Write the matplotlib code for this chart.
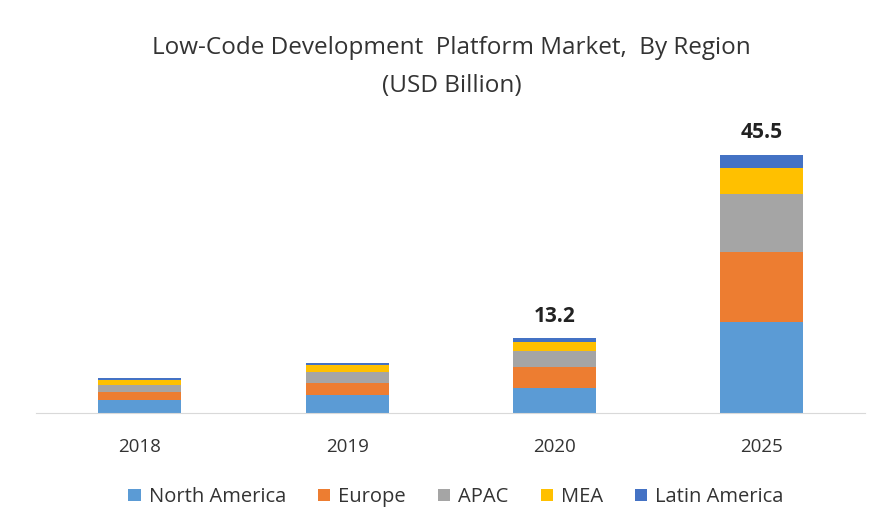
import numpy as np
from matplotlib import pyplot as plt

years = ["2018", "2019", "2020", "2025"]
regions = ["North America", "Europe", "APAC", "MEA", "Latin America"]
north_america = [2.3, 3.2, 4.5, 16.1]
europe = [1.4, 2.1, 3.7, 12.3]
apac = [1.2, 1.9, 2.8, 10.2]
mea = [0.9, 1.2, 1.6, 4.6]
latin_america = [0.4, 0.5, 0.6, 2.3]
totals = {"2020": "13.2", "2025": "45.5"}

colors = ["#5B9BD5", "#ED7D31", "#A5A5A5", "#FFC000", "#4472C4"]

plt.rcParams['font.family'] = ['Open Sans', 'DejaVu Sans']

fig = plt.figure(figsize=(8.84, 5.31), dpi=100)
ax = fig.add_axes([0.041, 0.222, 0.938, 0.588])

x = np.arange(len(years))
bottom = np.zeros(len(years))
series = [north_america, europe, apac, mea, latin_america]
for name, vals, c in zip(regions, series, colors):
    ax.bar(x, vals, width=0.4, bottom=bottom, color=c, label=name)
    bottom += np.array(vals)

# total labels on top of the bars
for i, yr in enumerate(years):
    if yr in totals:
        ax.text(x[i], bottom[i] + 2.0, totals[yr], ha="center", va="bottom",
                fontsize=15, fontweight="bold", color="#222222")

ax.set_xlim(-0.5, 3.5)
ax.set_ylim(0, 55)
ax.set_xticks(x)
ax.set_xticklabels(years, fontsize=13.5, color="#333333")
ax.tick_params(axis="x", length=0, pad=18)
ax.set_yticks([])
for s in ["top", "right", "left"]:
    ax.spines[s].set_visible(False)
ax.spines["bottom"].set_color("#D9D9D9")

fig.text(0.511, 0.910, "Low-Code Development  Platform Market,  By Region",
         ha="center", va="center", fontsize=17.5, color="#333333")
fig.text(0.511, 0.838, "(USD Billion)", ha="center", va="center",
         fontsize=17.5, color="#333333")

fig.legend(loc="center", bbox_to_anchor=(0.516, 0.064), ncol=5, frameon=False,
           fontsize=14.5, handlelength=0.6, handleheight=0.6, handletextpad=0.4,
           columnspacing=1.6, labelcolor="#333333")

fig.savefig("out.png", dpi=100, facecolor="white")
